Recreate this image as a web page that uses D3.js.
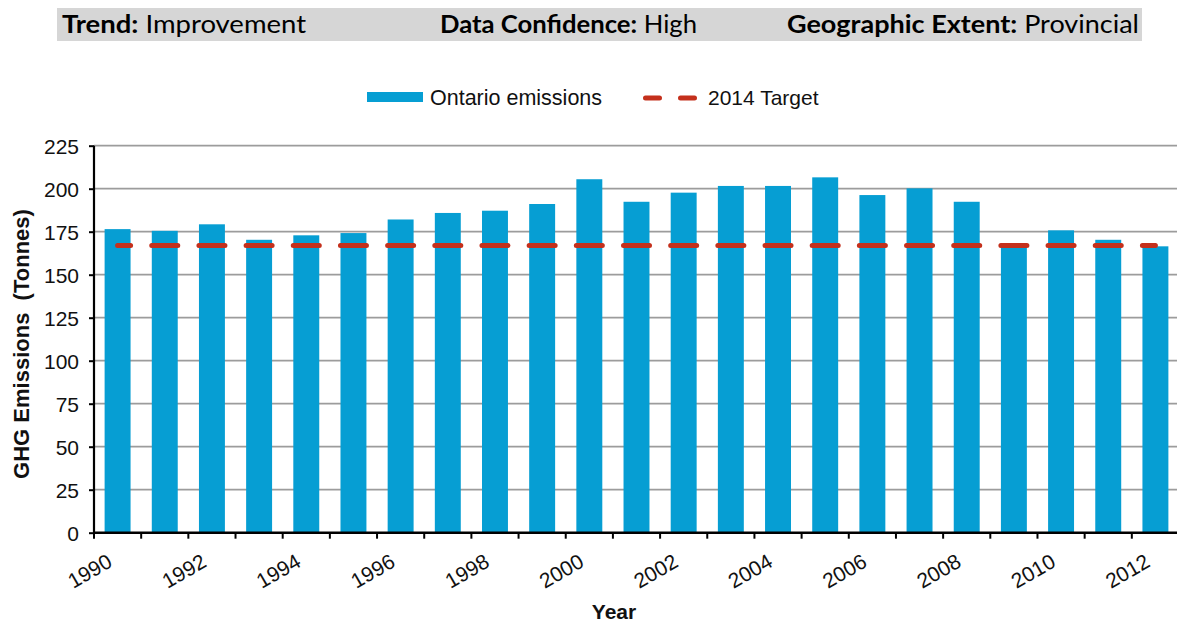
<!DOCTYPE html>
<html>
<head>
<meta charset="utf-8">
<script src="https://cdn.jsdelivr.net/npm/d3@7"></script>
<style>
  html, body { margin: 0; padding: 0; background: #fff; }
  svg { display: block; }
</style>
</head>
<body>
<svg id="chart" width="1177" height="627"></svg>
<script>
// ---- data ----
const years = ["1990","1991","1992","1993","1994","1995","1996","1997","1998","1999","2000","2001",
               "2002","2003","2004","2005","2006","2007","2008","2009","2010","2011","2012"];
const emissions = [176.5, 175.5, 179.3, 170.3, 172.9, 174.2, 182.1, 185.9, 187.2, 191.1, 205.5, 192.4,
                   197.7, 201.6, 201.6, 206.6, 196.3, 200.2, 192.4, 166.5, 175.8, 170.3, 166.5];
const target2014 = 167;
const yTicks = [0, 25, 50, 75, 100, 125, 150, 175, 200, 225];
const xTickLabels = ["1990","1992","1994","1996","1998","2000","2002","2004","2006","2008","2010","2012"];
const headerItems = [
  {label: "Trend:", value: " Improvement"},
  {label: "Data Confidence:", value: " High"},
  {label: "Geographic Extent:", value: " Provincial"}
];
const legendLabels = ["Ontario emissions", "2014 Target"];

// ---- setup ----
const svg = d3.select("#chart");
const blue = "#069ed3";
const red = "#c4301c";
const font = "'Liberation Sans', Arial, Helvetica, sans-serif";

// Header bar
svg.append("rect").attr("x", 57).attr("y", 8).attr("width", 1085).attr("height", 33).attr("fill", "#d6d6d6");
const headerPos = [{x: 62, w: 244}, {x: 440, w: 257}, {x: 787, w: 352}];
headerItems.forEach((h, i) => {
  const t = svg.append("text")
    .attr("x", headerPos[i].x).attr("y", 33)
    .attr("font-family", "Lato, 'Open Sans', sans-serif")
    .attr("font-size", 25)
    .attr("fill", "#000")
    .attr("textLength", headerPos[i].w)
    .attr("lengthAdjust", "spacingAndGlyphs");
  t.append("tspan").attr("font-weight", "bold").text(h.label);
  t.append("tspan").attr("font-weight", "normal").text(h.value);
});

// Scales
const x = d3.scaleBand().domain(years).range([94, 1179]).paddingInner(0.45).paddingOuter(0.225);
const y = d3.scaleLinear().domain([0, 225]).range([532.7, 145.7]);

// Gridlines
svg.append("g").selectAll("line").data(yTicks.filter(d => d > 0)).join("line")
  .attr("x1", 94).attr("x2", 1177)
  .attr("y1", d => y(d)).attr("y2", d => y(d))
  .attr("stroke", "#9c9c9c").attr("stroke-width", 1.8);

// Bars
svg.append("g").selectAll("rect").data(emissions).join("rect")
  .attr("x", (d, i) => x(years[i]))
  .attr("width", x.bandwidth())
  .attr("y", d => y(d))
  .attr("height", d => y(0) - y(d))
  .attr("fill", blue);

// Target dashed line
const step = x.step();
const dashLen = 26;
svg.append("line")
  .attr("x1", x(years[0]) + x.bandwidth() / 2)
  .attr("x2", x(years[years.length - 1]) + x.bandwidth() / 2)
  .attr("y1", y(target2014)).attr("y2", y(target2014))
  .attr("stroke", red).attr("stroke-width", 5).attr("stroke-linecap", "round")
  .attr("stroke-dasharray", `${dashLen},${step - dashLen}`)
  .attr("stroke-dashoffset", dashLen / 2);

// Y axis
const yAxis = d3.axisLeft(y).tickValues(yTicks).tickSize(5).tickPadding(10);
const gy = svg.append("g").attr("transform", "translate(94,0)").call(yAxis);
gy.select(".domain").attr("stroke", "#000").attr("stroke-width", 2.2).attr("d", `M0,${y(225)}V${y(0)}`);
gy.selectAll(".tick line").attr("stroke", "#000").attr("stroke-width", 2);
gy.selectAll(".tick text").attr("font-family", font).attr("font-size", 21).attr("fill", "#111").attr("dy", "0.35em");

// X axis: ticks at band boundaries
const gx = svg.append("g");
gx.append("line").attr("x1", 93).attr("x2", 1177).attr("y1", y(0)).attr("y2", y(0))
  .attr("stroke", "#000").attr("stroke-width", 2.4);
gx.selectAll("line.tk").data(d3.range(years.length)).join("line").attr("class", "tk")
  .attr("x1", i => 94 + i * step).attr("x2", i => 94 + i * step)
  .attr("y1", y(0)).attr("y2", y(0) + 6)
  .attr("stroke", "#000").attr("stroke-width", 2);
gx.selectAll("text").data(xTickLabels).join("text")
  .attr("transform", d => `translate(${x(d) + x.bandwidth() / 2 - 4},${y(0) + 33}) rotate(-30)`)
  .attr("text-anchor", "end")
  .attr("font-family", font).attr("font-size", 21).attr("fill", "#111")
  .text(d => d);

// Axis titles
svg.append("text")
  .attr("transform", "translate(28.5,344) rotate(-90)")
  .attr("text-anchor", "middle")
  .attr("font-family", font).attr("font-size", 22).attr("font-weight", "bold").attr("fill", "#111")
  .attr("xml:space", "preserve")
  .text("GHG Emissions  (Tonnes)");
svg.append("text")
  .attr("x", 614).attr("y", 619)
  .attr("text-anchor", "middle")
  .attr("font-family", font).attr("font-size", 21).attr("font-weight", "bold").attr("fill", "#111")
  .text("Year");

// Legend
const lg = svg.append("g");
lg.append("rect").attr("x", 367).attr("y", 92).attr("width", 56).attr("height", 10).attr("fill", blue);
lg.append("text").attr("x", 430).attr("y", 105)
  .attr("font-family", font).attr("font-size", 21.5).attr("fill", "#111").text(legendLabels[0]);
lg.append("line").attr("x1", 645.5).attr("x2", 694.5).attr("y1", 98).attr("y2", 98)
  .attr("stroke", red).attr("stroke-width", 5).attr("stroke-linecap", "round")
  .attr("stroke-dasharray", "14,21");
lg.append("text").attr("x", 708).attr("y", 105)
  .attr("font-family", font).attr("font-size", 21).attr("fill", "#111").text(legendLabels[1]);
</script>
</body>
</html>
